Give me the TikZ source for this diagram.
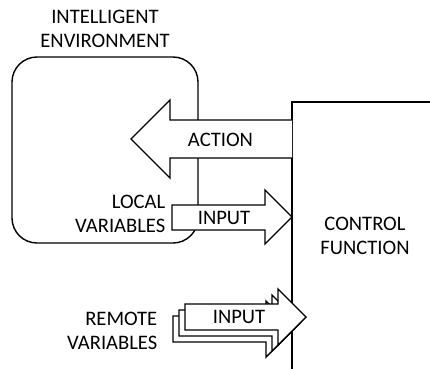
\documentclass[tikz,border=0pt]{standalone}
\usepackage{fontspec}
\setmainfont{Carlito}
\begin{document}
\begin{tikzpicture}[x=1pt,y=-1pt,line width=1.4pt,
  font=\fontsize{20.6}{24}\selectfont,
  blockarrow/.style={draw=black,fill=white,line join=miter},
  lbl/.style={inner sep=0pt,align=center}]
\useasboundingbox (0,0) rectangle (430,369);

% draw environment box
\draw[rounded corners=25pt] (12,57) rectangle (198,243);

% draw control function edge
\draw (292,369) -- (292,102) -- (430,102);

% draw action arrow
\draw[blockarrow] (292,120) -- (170,120) -- (170,100) -- (131,139)
  -- (170,178) -- (170,158) -- (292,158);

% draw local input arrow
\draw[blockarrow] (172,205) -- (265,205) -- (265,190) -- (292,217)
  -- (265,244) -- (265,230) -- (172,230) -- cycle;

% draw remote input arrows (stacked)
\foreach \d in {12,6,0}
  \draw[blockarrow,shift={(-\d,\d)}] (185,304) -- (278,304) -- (278,289)
    -- (306,317) -- (278,345) -- (278,330) -- (185,330) -- cycle;

% draw labels
\node[lbl] (env) at (105,29) {INTELLIGENT\\ENVIRONMENT};
\node[lbl] (action) at (220.5,140) {ACTION};
\node[lbl,align=right,anchor=east] (local) at (166,214) {LOCAL\\VARIABLES};
\node[lbl] (localin) at (224,217.5) {INPUT};
\node[lbl,align=right,anchor=east] (remote) at (158,331) {REMOTE\\VARIABLES};
\node[lbl] (remotein) at (239,317) {INPUT};
\node[lbl] (ctrl) at (365,236) {CONTROL\\FUNCTION};
\end{tikzpicture}
\end{document}
